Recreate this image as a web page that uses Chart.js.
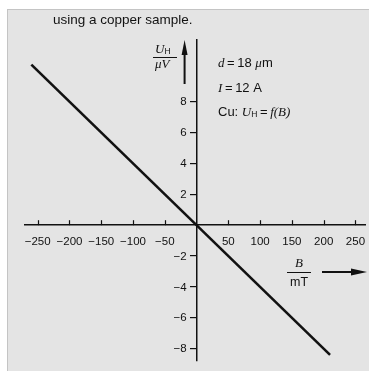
<!DOCTYPE html>
<html>
<head>
<meta charset="utf-8">
<script src="https://cdn.jsdelivr.net/npm/chart.js@4.4.0/dist/chart.umd.min.js"></script>
<style>
  html, body { margin: 0; padding: 0; background: #fff; }
  #sheet { position: absolute; left: 7px; top: 9px; right: 0; bottom: 0; background: #e4e4e4;
           border-left: 1px solid #c4c4c4; border-top: 1px solid #c4c4c4; }
  #wrap { position: absolute; left: 0; top: 0; width: 369px; height: 371px; }
</style>
</head>
<body>
<div id="sheet"></div>
<div id="wrap"><canvas id="hallChart"></canvas></div>
<script>
// Hall voltage of a copper sample vs magnetic flux density
const fluxDensity = [-260, 210];      // B in mT
const hallVoltage = [10.4, -8.4];     // U_H in µV
const xTickValues = [-250, -200, -150, -100, -50, 50, 100, 150, 200, 250];
const yTickValues = [-8, -6, -4, -2, 2, 4, 6, 8];

const INK = '#111';
const SANS = '"Liberation Sans", Arial, sans-serif';
const SERIF = '"Liberation Serif", "Times New Roman", serif';

const fmt = v => (v < 0 ? '\u2212' + Math.abs(v) : String(v));

// draw a sequence of [text, font, dy] pieces starting at x
function drawRuns(ctx, x, y, runs) {
  runs.forEach(([txt, font, dy]) => {
    ctx.font = font;
    ctx.fillText(txt, x, y + (dy || 0));
    x += ctx.measureText(txt).width;
  });
}

const annotations = {
  id: 'annotations',
  afterDraw(chart) {
    const ctx = chart.ctx;
    const xs = chart.scales.x, ys = chart.scales.y;
    const ox = xs.getPixelForValue(0), oy = ys.getPixelForValue(0);
    ctx.save();
    ctx.fillStyle = INK;
    ctx.strokeStyle = INK;
    ctx.textBaseline = 'alphabetic';
    ctx.textAlign = 'left';

    // caption remnant
    ctx.font = '13.5px ' + SANS;
    ctx.fillText('using a copper sample.', 53, 24);

    // x tick marks (pointing up)
    ctx.lineWidth = 1.2;
    xTickValues.forEach(v => {
      const px = Math.round(xs.getPixelForValue(v)) + 0.5;
      ctx.beginPath();
      ctx.moveTo(px, oy);
      ctx.lineTo(px, oy - 5);
      ctx.stroke();
    });

    // y tick labels, right aligned left of the tick marks
    ctx.textAlign = 'right';
    ctx.textBaseline = 'middle';
    ctx.font = '11.5px ' + SANS;
    yTickValues.forEach(v => {
      ctx.fillText(fmt(v), ox - 10, ys.getPixelForValue(v) + 0.5);
    });
    ctx.textAlign = 'left';
    ctx.textBaseline = 'alphabetic';

    // y axis quantity: U_H / µV
    drawRuns(ctx, 155, 53, [['U', 'italic 13px ' + SERIF], ['H', '8.5px ' + SANS, 1]]);
    ctx.lineWidth = 1;
    ctx.beginPath(); ctx.moveTo(153, 57.5); ctx.lineTo(177, 57.5); ctx.stroke();
    drawRuns(ctx, 155, 68, [['\u03bcV', 'italic 13px ' + SERIF]]);

    // arrow up
    ctx.lineWidth = 2;
    ctx.beginPath(); ctx.moveTo(ox - 12, 84); ctx.lineTo(ox - 12, 50); ctx.stroke();
    ctx.beginPath();
    ctx.moveTo(ox - 12, 40); ctx.lineTo(ox - 15, 55); ctx.lineTo(ox - 9, 55); ctx.closePath(); ctx.fill();

    // parameters
    const S = '13px ' + SANS, I = 'italic 13px ' + SERIF;
    drawRuns(ctx, 218, 67, [['d', I], ['\u2009=\u200918 ', S], ['\u03bc', I], ['m', S]]);
    drawRuns(ctx, 218, 92, [['I', I], ['\u2009=\u200912 A', S]]);
    drawRuns(ctx, 218, 116, [['Cu: ', S], ['U', I], ['H', '8.5px ' + SANS, 1],
                             ['\u2009=\u2009', S], ['f', I], ['(B)', I]]);

    // x axis quantity: B / mT
    ctx.textAlign = 'center';
    ctx.font = 'italic 13px ' + SERIF;
    ctx.fillText('B', 299, 267);
    ctx.lineWidth = 1;
    ctx.beginPath(); ctx.moveTo(287, 272.5); ctx.lineTo(311, 272.5); ctx.stroke();
    ctx.font = '12.5px ' + SANS;
    ctx.fillText('mT', 299, 286);

    // arrow right
    ctx.lineWidth = 2;
    ctx.beginPath(); ctx.moveTo(322, 272); ctx.lineTo(355, 272); ctx.stroke();
    ctx.beginPath();
    ctx.moveTo(367, 272); ctx.lineTo(351, 268.5); ctx.lineTo(351, 275.5); ctx.closePath(); ctx.fill();

    ctx.restore();
  }
};

new Chart(document.getElementById('hallChart'), {
  type: 'scatter',
  data: {
    datasets: [{
      data: fluxDensity.map((b, i) => ({ x: b, y: hallVoltage[i] })),
      showLine: true,
      borderColor: INK,
      borderWidth: 2.6,
      pointRadius: 0,
      borderCapStyle: 'butt'
    }]
  },
  options: {
    responsive: true,
    maintainAspectRatio: false,
    animation: false,
    layout: { padding: { left: 25, right: 4, top: 40, bottom: 10 } },
    plugins: { legend: { display: false }, tooltip: { enabled: false } },
    scales: {
      x: {
        type: 'linear',
        min: -270,
        max: 265,
        position: { y: 0 },
        afterBuildTicks: s => { s.ticks = xTickValues.map(v => ({ value: v })); },
        afterFit: s => { s.height = 0; s.paddingLeft = 0; s.paddingRight = 0; },
        grid: { display: false, drawTicks: false },
        border: { display: true, color: INK, width: 1.5 },
        ticks: {
          autoSkip: false, maxRotation: 0, padding: 10, color: INK,
          font: { family: SANS, size: 11.5 },
          callback: v => fmt(v)
        }
      },
      y: {
        type: 'linear',
        min: -8.8,
        max: 12,
        position: { x: 0 },
        afterBuildTicks: s => { s.ticks = yTickValues.map(v => ({ value: v })); },
        afterFit: s => { s.width = 0; },
        grid: { drawOnChartArea: false, drawTicks: true, tickLength: 6, color: INK, lineWidth: 1.2 },
        border: { display: true, color: INK, width: 1.5 },
        ticks: { display: false }
      }
    }
  },
  plugins: [annotations]
});
</script>
</body>
</html>
